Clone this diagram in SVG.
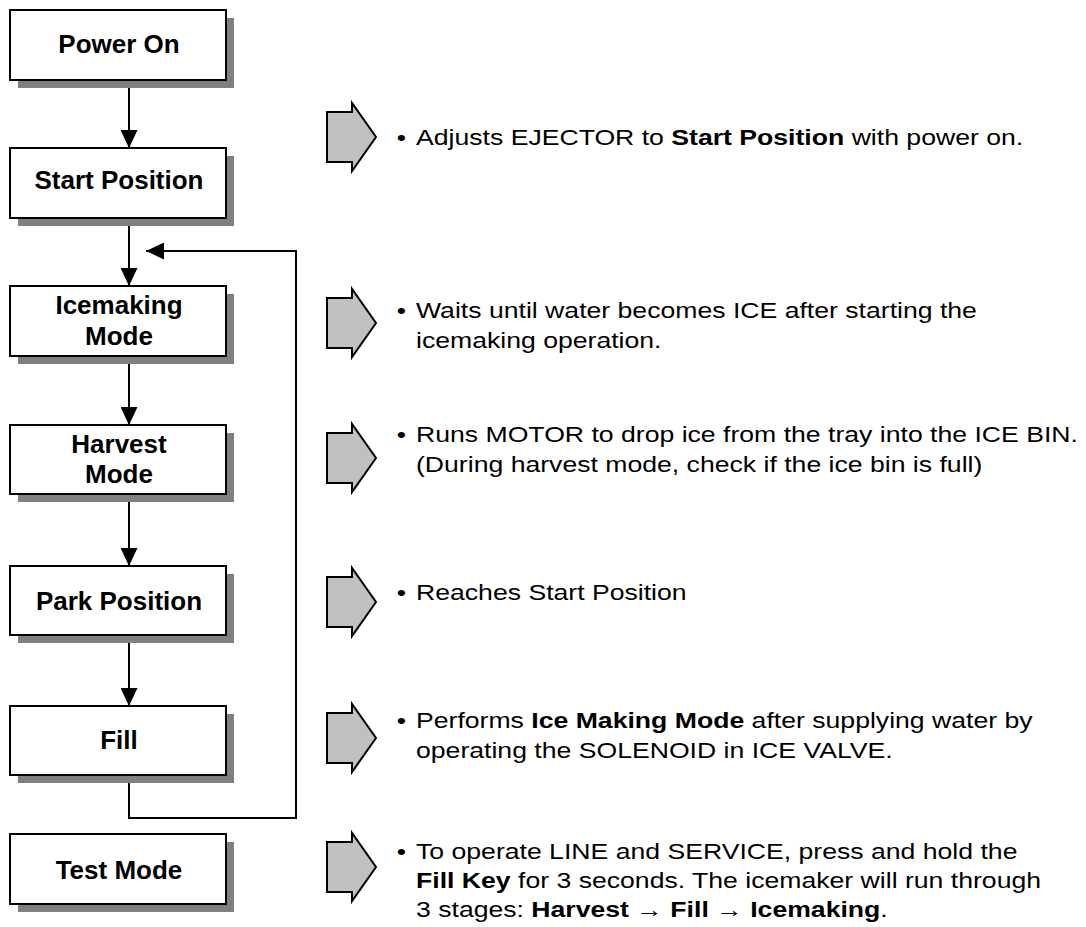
<svg xmlns="http://www.w3.org/2000/svg" width="1086" height="927" viewBox="0 0 1086 927">
<style>
  .shadow { fill: #808080; }
  .box { fill: #ffffff; stroke: #000000; stroke-width: 2; }
  .btxt { font-family: "Liberation Sans", Arial, sans-serif; font-weight: bold; font-size: 26px; fill: #000; text-anchor: middle; }
  .conn { fill: none; stroke: #000; stroke-width: 2; }
  .ctxt { font-family: "Liberation Sans", Arial, sans-serif; font-size: 22px; fill: #000; }
  .b { font-weight: bold; }
  .blk { fill: #c0c0c0; stroke: #000; stroke-width: 2; stroke-linejoin: miter; }
</style>
<defs>
  <marker id="ah" viewBox="0 0 18 17" refX="18" refY="8.5" markerWidth="18" markerHeight="17" markerUnits="userSpaceOnUse" orient="auto">
    <path d="M0,0 L18,8.5 L0,17 Z" fill="#000"/>
  </marker>
  <path id="blk" d="M-49,-25 L-24,-25 L-24,-34 L0,0 L-24,34 L-24,25 L-49,25 Z"/>
</defs>
<rect width="1086" height="927" fill="#ffffff"/>

<g id="connectors">
  <line class="conn" x1="129" y1="80" x2="129" y2="148" marker-end="url(#ah)"/>
  <line class="conn" x1="129" y1="218" x2="129" y2="286" marker-end="url(#ah)"/>
  <line class="conn" x1="129" y1="356" x2="129" y2="425" marker-end="url(#ah)"/>
  <line class="conn" x1="129" y1="494" x2="129" y2="566" marker-end="url(#ah)"/>
  <line class="conn" x1="129" y1="635" x2="129" y2="706" marker-end="url(#ah)"/>
  <polyline class="conn" points="129,775 129,818 296,818 296,251 146,251" marker-end="url(#ah)"/>
</g>

<g id="node-power-on">
  <rect class="shadow" x="18" y="18" width="216" height="70"/>
  <rect class="box" x="10" y="10" width="216" height="70"/>
  <text class="btxt" x="119" y="53">Power On</text>
</g>
<g id="node-start-position">
  <rect class="shadow" x="18" y="156" width="216" height="70"/>
  <rect class="box" x="10" y="148" width="216" height="70"/>
  <text class="btxt" x="119" y="189">Start Position</text>
</g>
<g id="node-icemaking-mode">
  <rect class="shadow" x="18" y="294" width="216" height="70"/>
  <rect class="box" x="10" y="286" width="216" height="70"/>
  <text class="btxt" x="119" y="314">Icemaking</text>
  <text class="btxt" x="119" y="345">Mode</text>
</g>
<g id="node-harvest-mode">
  <rect class="shadow" x="18" y="433" width="216" height="69"/>
  <rect class="box" x="10" y="425" width="216" height="69"/>
  <text class="btxt" x="119" y="453">Harvest</text>
  <text class="btxt" x="119" y="483">Mode</text>
</g>
<g id="node-park-position">
  <rect class="shadow" x="18" y="574" width="216" height="69"/>
  <rect class="box" x="10" y="566" width="216" height="69"/>
  <text class="btxt" x="119" y="610">Park Position</text>
</g>
<g id="node-fill">
  <rect class="shadow" x="18" y="714" width="216" height="69"/>
  <rect class="box" x="10" y="706" width="216" height="69"/>
  <text class="btxt" x="119" y="749">Fill</text>
</g>
<g id="node-test-mode">
  <rect class="shadow" x="18" y="842" width="216" height="70"/>
  <rect class="box" x="10" y="834" width="216" height="70"/>
  <text class="btxt" x="119" y="879">Test Mode</text>
</g>

<g id="callout-1">
  <use href="#blk" class="blk" x="376" y="137"/>
  <g transform="translate(416,0) scale(1.21,1)">
    <text class="ctxt" x="-16" y="145">•</text>
    <text class="ctxt" x="0" y="145">Adjusts EJECTOR to <tspan class="b">Start Position</tspan> with power on.</text>
  </g>
</g>
<g id="callout-2">
  <use href="#blk" class="blk" x="376" y="323"/>
  <g transform="translate(416,0) scale(1.21,1)">
    <text class="ctxt" x="-16" y="318">•</text>
    <text class="ctxt" x="0" y="318">Waits until water becomes ICE after starting the</text>
    <text class="ctxt" x="0" y="348">icemaking operation.</text>
  </g>
</g>
<g id="callout-3">
  <use href="#blk" class="blk" x="376" y="458"/>
  <g transform="translate(416,0) scale(1.21,1)">
    <text class="ctxt" x="-16" y="442">•</text>
    <text class="ctxt" x="0" y="442">Runs MOTOR to drop ice from the tray into the ICE BIN.</text>
    <text class="ctxt" x="0" y="472">(During harvest mode, check if the ice bin is full)</text>
  </g>
</g>
<g id="callout-4">
  <use href="#blk" class="blk" x="376" y="602"/>
  <g transform="translate(416,0) scale(1.21,1)">
    <text class="ctxt" x="-16" y="600">•</text>
    <text class="ctxt" x="0" y="600">Reaches Start Position</text>
  </g>
</g>
<g id="callout-5">
  <use href="#blk" class="blk" x="376" y="738"/>
  <g transform="translate(416,0) scale(1.21,1)">
    <text class="ctxt" x="-16" y="728">•</text>
    <text class="ctxt" x="0" y="728">Performs <tspan class="b">Ice Making Mode</tspan> after supplying water by</text>
    <text class="ctxt" x="0" y="758">operating the SOLENOID in ICE VALVE.</text>
  </g>
</g>
<g id="callout-6">
  <use href="#blk" class="blk" x="376" y="867"/>
  <g transform="translate(416,0) scale(1.21,1)">
    <text class="ctxt" x="-16" y="859">•</text>
    <text class="ctxt" x="0" y="859">To operate LINE and SERVICE, press and hold the</text>
    <text class="ctxt" x="0" y="888"><tspan class="b">Fill Key</tspan> for 3 seconds. The icemaker will run through</text>
    <text class="ctxt" x="0" y="917">3 stages: <tspan class="b">Harvest</tspan> → <tspan class="b">Fill</tspan> → <tspan class="b">Icemaking</tspan>.</text>
  </g>
</g>
</svg>
